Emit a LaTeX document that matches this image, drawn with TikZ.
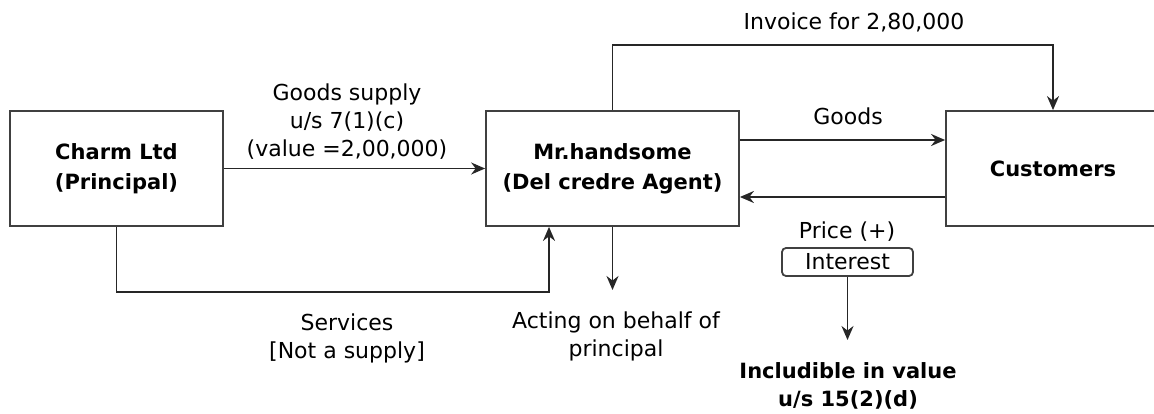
\documentclass[tikz,border=0pt]{standalone}
\usepackage{fontspec}
\setmainfont{DejaVu Sans}
\usetikzlibrary{arrows.meta}
\begin{document}
\begin{tikzpicture}[x=1pt, y=-1pt, line width=1.8pt,
  every node/.style={font=\fontsize{22}{28}\selectfont, align=center},
  party box/.style={rectangle, draw=black!75, minimum height=115pt, inner sep=0pt, font=\fontsize{21}{30}\selectfont\bfseries},
  tag box/.style={rectangle, rounded corners=4pt, draw=black!75, minimum width=131pt, minimum height=28pt, inner sep=0pt},
  flow/.style={-{Stealth[length=14pt,width=12pt]}, draw=black!85}]
\useasboundingbox (0,0) rectangle (1154,414);
% parties
\node[party box, minimum width=213pt] (charm) at (116.5,168.5) {Charm Ltd\\(Principal)};
\node[party box, minimum width=253pt] (agent) at (612.5,168.5) {Mr.handsome\\(Del credre Agent)};
\node[party box, minimum width=214pt] (cust) at (1053,168.5) {Customers};
\node[tag box] (interest) at (847.5,262) {Interest};
% free ends
\coordinate (invtop) at (1053,45);
\coordinate (svcbot) at (116.5,292);
\coordinate (actend) at (612.5,290);
\coordinate (inclend) at (847.5,340);
% labels
\node (supplylbl) at (347,122) {Goods supply\\u/s 7(1)(c)\\(value =2,00,000)};
\node (invlbl) at (854,22) {Invoice for 2,80,000};
\node (goodslbl) at (848,116) {Goods};
\node (pricelbl) at (847,232) {Price (+)};
\node (svclbl) at (347,338) {Services\\{}[Not a supply]};
\node (actlbl) at (616,336) {Acting on behalf of\\principal};
\node[font=\fontsize{21}{28}\selectfont\bfseries] (incllbl) at (848,386) {Includible in value\\u/s 15(2)(d)};
% connectors
\draw[flow] (charm) -- (agent);
\draw[flow] (agent.north) |- (invtop) -- (cust.north);
\draw[flow] ([yshift=28.5pt]agent.east) -- ([yshift=28.5pt]cust.west);
\draw[flow] ([yshift=-28.5pt]cust.west) -- ([yshift=-28.5pt]agent.east);
\draw[flow] (charm.south) -- (svcbot) -| ([xshift=-63.5pt]agent.south);
\draw[flow] (agent.south) -- (actend);
\draw[flow] (interest.south) -- (inclend);
\end{tikzpicture}
\end{document}
